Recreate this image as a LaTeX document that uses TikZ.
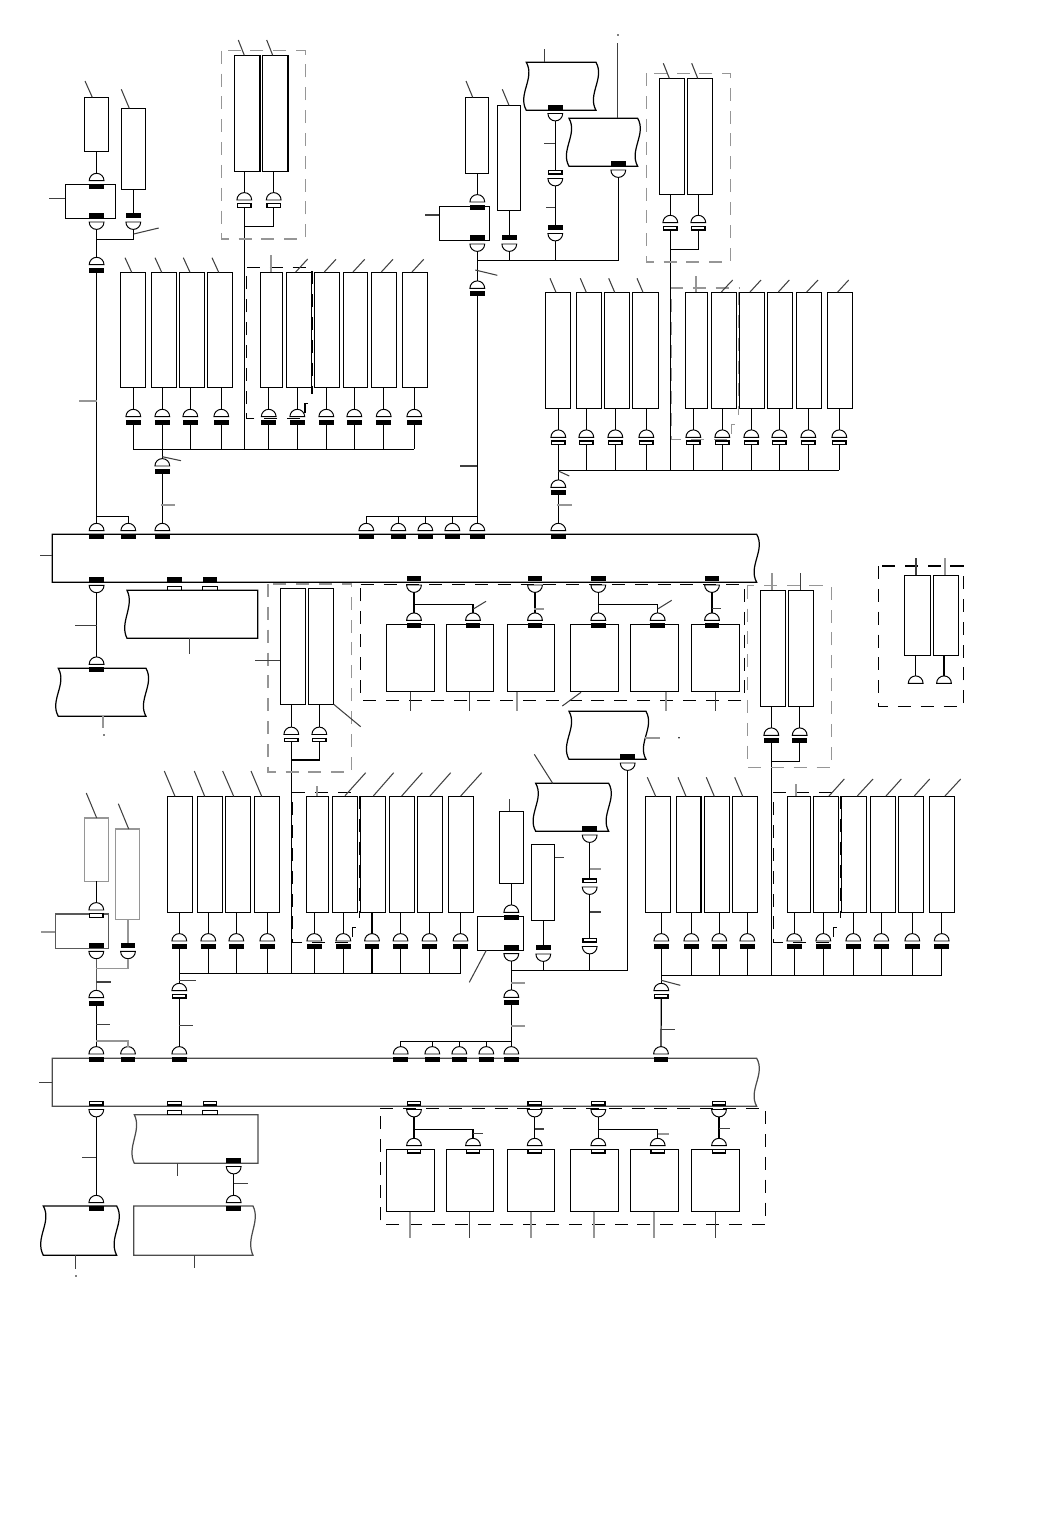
\documentclass[tikz,border=0pt]{standalone}
\usetikzlibrary{shapes.geometric}
\definecolor{leadgrey}{RGB}{150,150,150}
\tikzset{
 wire/.style={line width=.7pt},
 lead/.style={line width=.6pt,black!75},
 leadfat/.style={line width=1.2pt,leadgrey},
 cell/.style={draw,line width=.7pt,inner sep=0pt,outer sep=0pt},
 dome/.style={semicircle,draw,line width=.55pt,inner sep=0pt,outer sep=0pt,minimum width=.296cm,minimum height=.148cm,anchor=chord center},
 cup/.style={dome,shape border rotate=180},
 slab/.style={draw=black,line width=.8pt,fill=#1,inner sep=0pt,outer sep=0pt,minimum width=.27cm,minimum height=.07cm,anchor=north},
 slab/.default=black,
 fence/.style={line width=.7pt,dash pattern=on 7.4pt off 5.6pt},
 greyfence/.style={fence,draw=leadgrey},
}
% dome resting on a slab, slab hanging over a cup
\newcommand{\plugdown}[4][black]{\node[dome] (#2) at (#3,#4) {};\node[slab=#1] (#2-s) at (#3,{#4+3.7}) {};}
\newcommand{\plugup}[4][black]{\node[slab=#1] (#2-s) at (#3,#4) {};\node[cup] (#2) at (#3,{#4+8}) {};}
\newcommand{\cell}[6][]{\node[cell,#1,minimum width={((#5)-(#3))*0.02cm},minimum height={((#6)-(#4))*0.02cm}] (#2) at ({((#3)+(#5))/2},{((#4)+(#6))/2}) {};}
% args: left, top, right, bottom, wave left, wave right
\newcommand{\wavybox}[7][black]{\draw[wire,draw=#1] (#2,#3) -- (#4,#3) .. controls ({#4+#7},{#3+16}) and ({#4-#7},{#3+32}) .. (#4,#5) -- (#2,#5) .. controls ({#2-#6},{#3+32}) and ({#2+#6},{#3+16}) .. cycle;}
% fence of a row, with its notch at the lower right
\newcommand{\notchfence}[5]{
 \draw[#1] (#4-4,#5-15) -- (#4-7,#5-15) -- (#4-7,#5) -- (#2,#5) -- (#2,#3) -- (#4,#3);
 \draw[#1] (#4,#3+4) -- (#4,#5-24);
}
% one tall cell of a row with its plug
\newcommand{\rowcell}[9]{
 \cell{#1}{#2}{#5}{#3}{#6}
 \plugdown[#8]{#1p}{#4}{#7}
 \draw[wire] (#1.south -| #1p.apex) -- (#1p.apex);
 \draw[wire] (#1p-s.south) -- (#1p-s.south |- #9);
}
\begin{document}
\begin{tikzpicture}[x=.02cm,y=-.02cm]
 \useasboundingbox (0,0) rectangle (1043,1536);

 % upper left feeder
 \cell{meterA}{84.3}{97.3}{108.6}{151.3}
 \cell{driveA}{65.3}{184.3}{115.3}{218.3}
 \cell{meterB}{121.3}{108.3}{145.7}{189.3}
 \plugdown{fa}{96.6}{180.7}
 \plugup{fb}{96.6}{214}
 \plugup{fc}{133.3}{214}
 \plugdown{fd}{96.6}{264.7}
 \coordinate (ja) at (96.6,239.3);
 \draw[wire] (meterA.south -| fa.apex) -- (fa.apex);
 \draw[wire] (meterB.south -| fc-s.north) -- (fc-s.north);
 \draw[wire] (fb.apex) -- (fd.apex);
 \draw[wire] (fc.apex) |- (ja);

 % upper middle feeder
 \cell{meterC}{465.3}{97.3}{488.7}{173.7}
 \cell{driveB}{439.3}{206.3}{489.7}{240.3}
 \cell{meterD}{497.3}{105.3}{520.7}{210.3}
 \plugdown{ga}{477.3}{202}
 \plugup{gb}{477.3}{236}
 \plugup{gc}{509.3}{236}
 \plugdown{gd}{477.3}{288.3}
 \wavybox{526.3}{62.3}{596}{110.3}{9}{9}
 \wavybox{569}{118.3}{637.7}{166.3}{9}{9}
 \plugup{ge}{555.3}{105.5}
 \plugup[white]{gf}{555.3}{170.5}
 \plugup{gg}{555.3}{225.5}
 \plugup{gh}{618.3}{162}
 \coordinate (jb) at (477.3,260.3);
 \draw[wire] (meterC.south -| ga.apex) -- (ga.apex);
 \draw[wire] (meterD.south -| gc-s.north) -- (gc-s.north);
 \draw[wire] (gb.apex) -- (gd.apex);
 \draw[wire] (ge.apex) -- (gf-s.north);
 \draw[wire] (gf.apex) -- (gg-s.north);
 \draw[wire] (gh.apex) |- (jb);
 \draw[wire] (gc.apex) -- (gc.apex |- jb);
 \draw[wire] (gg.apex) -- (gg.apex |- jb);

 % cabinets of two cells
 \foreach \nm/\xa/\ya/\yb/\sa/\sb/\yd/\yj/\st/\yl in {
  cabA/234.7/55.3/171.3/244.3/273.7/200/226.7/white/449.3,
  cabB/659.3/78.3/194.7/670.3/698.3/222.7/249.3/white/470.3,
  cabC/280.3/588.3/704.3/291.3/319.3/734.5/760/white/973.3,
  cabD/760.3/590.3/706.3/771.3/799.7/735.3/761.3/black/975.3}{
  \cell{\nm a}{\xa}{\ya}{\xa+25.4}{\yb}
  \cell{\nm b}{\xa+28}{\ya}{\xa+53.4}{\yb}
  \plugdown[\st]{\nm p}{\sa}{\yd}
  \plugdown[\st]{\nm q}{\sb}{\yd}
  \draw[wire] (\nm a.south -| \nm p.apex) -- (\nm p.apex);
  \draw[wire] (\nm b.south -| \nm q.apex) -- (\nm q.apex);
  \draw[wire] (\nm q-s.south) |- (\sa,\yj);
  \draw[wire] (\nm p-s.south) -- (\sa,\yl);
 }
 \cell{cabEa}{904.3}{575.3}{930.3}{655.3}
 \cell{cabEb}{933.3}{575.3}{958.7}{655.3}
 \node[dome] (cabEp) at (915.7,683.3) {};
 \node[dome] (cabEq) at (944,683.3) {};
 \draw[wire] (cabEa.south -| cabEp.apex) -- (cabEp.apex);
 \draw[wire] (cabEb.south -| cabEq.apex) -- (cabEq.apex);

 % row over the first bus, left
 \coordinate (busA) at (0,449.3);
 \foreach \nm/\xa/\xb/\xs in {a/120.3/145.7/133.3,b/151.3/176.7/162.3,c/179.3/204.7/190.3,d/207.3/232.7/221.3,e/260.3/282.7/268.7,f/286.3/311.7/297.3,g/314.3/339.7/326.3,h/343.3/367.7/354.3,i/371.3/396.7/383.7,j/402.3/427.7/414.3}
  {\rowcell{rA\nm}{\xa}{\xb}{\xs}{272.3}{387.3}{416.7}{black}{busA}}
 \draw[wire] (rAap-s.south |- busA) -- (rAjp-s.south |- busA);
 \plugdown{ka}{162.3}{466}
 \draw[wire] (rAbp-s.south |- busA) -- (ka.apex);
 \notchfence{fence}{246.3}{267.3}{312}{418.3}

 % row over the first bus, right
 \coordinate (busB) at (0,470.3);
 \foreach \nm/\xa/\xb/\xs in {a/545.3/570.7/558.3,b/576.3/601.7/586.3,c/604.3/629.7/615.3,d/632.3/658.7/646.3,e/685.3/707.7/693.3,f/711.3/736.7/722.3,g/739.3/764.7/751.3,h/767.3/792.7/779.3,i/796.3/821.7/808.3,j/827.3/852.7/839.3}
  {\rowcell{rB\nm}{\xa}{\xb}{\xs}{292.3}{408.7}{437.3}{white}{busB}}
 \draw[wire] (rBap-s.south |- busB) -- (rBjp-s.south |- busB);
 \plugdown{kb}{558.3}{487.3}
 \draw[wire] (rBap-s.south |- busB) -- (kb.apex);
 \notchfence{greyfence}{671.3}{288}{738.7}{439.3}

 % first bus
 \wavybox{52.3}{534.3}{756.7}{582.3}{0}{9}
 \plugdown{ta}{96.6}{530.7}
 \plugdown{tb}{128.3}{530.7}
 \plugdown{tc}{162.3}{530.7}
 \plugdown{td}{366.3}{530.7}
 \plugdown{te}{398.3}{530.7}
 \plugdown{tf}{425.3}{530.7}
 \plugdown{tg}{452.3}{530.7}
 \plugdown{th}{477.3}{530.7}
 \plugdown{ti}{558.3}{530.7}
 \coordinate (jc) at (96.6,516.3);
 \coordinate (jd) at (477.3,516.3);
 \draw[wire] (fd-s.south) -- (ta.apex);
 \draw[wire] (jc) -| (tb.apex);
 \draw[wire] (ka-s.south) -- (tc.apex);
 \draw[wire] (gd-s.south) -- (th.apex);
 \draw[wire] (kb-s.south) -- (ti.apex);
 \draw[wire] (jd) -| (td.apex);
 \foreach \nm in {te,tf,tg} \draw[wire] (\nm.apex) -- (\nm.apex |- jd);

 % under the first bus, left
 \plugup{ua}{96.6}{577.3}
 \plugdown{ub}{96.6}{664.3}
 \draw[wire] (ua.apex) -- (ub.apex);
 \wavybox{58.3}{668.3}{146}{716.3}{9}{9}
 \wavybox{127}{590.3}{257.7}{638.3}{8}{0}
 \node[slab] (uc) at (174.5,577.3) {};
 \node[slab] (ud) at (210,577.3) {};
 \node[cell,minimum width=.29cm,minimum height=.08cm,anchor=south] (ue) at (174.5,590.3) {};
 \node[cell,minimum width=.31cm,minimum height=.08cm,anchor=south] (uf) at (210,590.3) {};

 % under the first bus, the six cells
 \foreach \nm/\xa/\xb/\xs in {a/386.3/434.7/414,b/446.3/493.7/473,c/507.3/554.7/535,d/570.3/618.7/598.3,e/630.3/678.7/657.7,f/691.3/739.7/712}{
  \cell{vA\nm}{\xa}{624.3}{\xb}{691.7}
  \plugdown{vA\nm p}{\xs}{620.3}
 }
 \foreach \nm/\xs in {a/414,c/535,d/598.3,f/712}{
  \plugup{vB\nm}{\xs}{577}
  \draw[wire] (vB\nm.apex) -- (vA\nm p.apex);
 }
 \draw[wire] (vBa.apex |- 0,604.3) -| (vAbp.apex);
 \draw[wire] (vBd.apex |- 0,604.3) -| (vAep.apex);
 \draw[fence] (360.7,584.3) -- (744.3,584.3) -- (744.3,700.3) -- (360.7,700.3) -- cycle;
 \wavybox{569}{711.3}{646}{759.3}{9}{9}
 \plugup{wa}{627.7}{755}
 \coordinate (je) at (511.3,970.3);
 \draw[wire] (wa.apex) |- (je);

 % fences of the cabinets
 \draw[greyfence] (221.3,50.7) rectangle (305.3,239);
 \draw[greyfence] (646.7,73.3) rectangle (730.7,262);
 \draw[greyfence] (268,584) rectangle (351.7,772);
 \draw[greyfence] (747.3,585.7) rectangle (831.3,767.7);
 \draw[fence] (878.3,566) rectangle (963.3,706.3);

 % lower left feeder
 \cell[draw=leadgrey,line width=.9pt]{meterE}{84.3}{818}{108.3}{881.3}
 \cell[draw=black!65]{driveC}{55.3}{914}{108.7}{948.3}
 \cell[draw=leadgrey,line width=.9pt]{meterF}{115.7}{829}{139.7}{919.3}
 \plugdown[white]{ma}{96.3}{910}
 \plugup{mb}{96.3}{943.3}
 \plugup{mc}{128}{943.3}
 \plugdown{md}{96.3}{997.7}
 \coordinate (jf) at (96.3,968.3);
 \draw[wire] (meterE.south -| ma.apex) -- (ma.apex);
 \draw[wire,leadgrey] (meterF.south -| mc-s.north) -- (mc-s.north);
 \draw[wire,black!65] (mb.apex) -- (md.apex);
 \draw[wire,leadgrey] (mc.apex) |- (jf);

 % lower middle feeder
 \cell{meterG}{499.3}{811.3}{523.3}{883.3}
 \cell{driveD}{477.3}{916.3}{523.3}{950.3}
 \cell{meterH}{531.3}{844.3}{554.7}{920.3}
 \plugdown{na}{511.3}{912.3}
 \plugup{nb}{511.3}{945.7}
 \plugup{nc}{543.3}{946}
 \plugdown{nd}{511.3}{997.3}
 \wavybox{535.7}{783.3}{608.7}{831.3}{9}{9}
 \plugup{ne}{589.7}{827}
 \plugup[white]{nf}{589.7}{879}
 \plugup[white]{ng}{589.7}{938.5}
 \draw[wire] (meterG.south -| na.apex) -- (na.apex);
 \draw[wire] (meterH.south -| nc-s.north) -- (nc-s.north);
 \draw[wire] (nb.apex) -- (nd.apex);
 \draw[wire] (ne.apex) -- (nf-s.north);
 \draw[wire] (nf.apex) -- (ng-s.north);
 \draw[wire] (nc.apex) -- (nc.apex |- je);
 \draw[wire] (ng.apex) -- (ng.apex |- je);

 % row over the second bus, left
 \coordinate (busC) at (0,973.3);
 \foreach \nm/\xa/\xb/\xs in {a/167.3/192.7/179.3,b/197.3/222.7/208.3,c/225.3/250.7/236.3,d/254.3/279.7/267.3,e/306.3/328.7/314.3,f/332.3/357.7/343.3,g/360.3/385.7/372,h/389.3/414.7/400.5,i/417.3/442.7/429.5,j/448.3/473.7/460.5}
  {\rowcell{rC\nm}{\xa}{\xb}{\xs}{796.3}{912.3}{941}{black}{busC}}
 \draw[wire] (rCap-s.south |- busC) -- (rCjp-s.south |- busC);
 \plugdown[white]{kc}{179.3}{990.7}
 \draw[wire] (rCap-s.south |- busC) -- (kc.apex);
 \notchfence{fence}{292.3}{792.3}{359.7}{942.3}

 % row over the second bus, right
 \coordinate (busD) at (0,975.3);
 \foreach \nm/\xa/\xb/\xs in {a/645.3/670.7/661.3,b/676.3/701/691.3,c/704.3/729.7/719.3,d/732.3/757.7/747.3,e/787.3/810.7/794.3,f/813.3/838.7/823.3,g/841.3/866.7/853.3,h/870.3/895.7/881.3,i/898.3/923.7/912.3,j/929.3/954.7/941.7}
  {\rowcell{rD\nm}{\xa}{\xb}{\xs}{796.3}{912.3}{941}{black}{busD}}
 \draw[wire] (rDap-s.south |- busD) -- (rDjp-s.south |- busD);
 \plugdown[white]{kd}{661.3}{990.7}
 \draw[wire] (rDap-s.south |- busD) -- (kd.apex);
 \notchfence{fence}{773.3}{792.3}{840.7}{942.3}

 % second bus
 \wavybox[black!70]{52.3}{1058.3}{756.7}{1106.3}{0}{9}
 \plugdown{xa}{96.3}{1054}
 \plugdown{xb}{128}{1054}
 \plugdown{xc}{179.3}{1054}
 \plugdown{xd}{400.7}{1054}
 \plugdown{xe}{432.3}{1054}
 \plugdown{xf}{459.3}{1054}
 \plugdown{xg}{486.3}{1054}
 \plugdown{xh}{511.3}{1054}
 \plugdown{xi}{661}{1054}
 \coordinate (jg) at (96.3,1041);
 \coordinate (jh) at (511.3,1041.3);
 \draw[wire] (md-s.south) -- (xa.apex);
 \draw[wire,leadgrey] (jg) -| (xb.apex);
 \draw[wire] (kc-s.south) -- (xc.apex);
 \draw[wire] (nd-s.south) -- (xh.apex);
 \draw[wire] (kd-s.south) -- (xi.apex);
 \draw[wire] (jh) -| (xd.apex);
 \foreach \nm in {xe,xf,xg} \draw[wire] (\nm.apex) -- (\nm.apex |- jh);

 % under the second bus, left
 \plugup[white]{ya}{96.3}{1101.5}
 \plugdown{yb}{96.3}{1202.7}
 \draw[wire] (ya.apex) -- (yb.apex);
 \wavybox{43.3}{1206}{116.7}{1255.3}{9}{9}
 \wavybox[black!70]{134.3}{1114.7}{258}{1163.3}{8}{0}
 \wavybox[black!70]{133.7}{1206}{253}{1255.3}{0}{8}
 \node[slab=white] (yc) at (174.5,1101.5) {};
 \node[slab=white] (yd) at (210,1101.5) {};
 \node[cell,minimum width=.29cm,minimum height=.08cm,anchor=south] (ye) at (174.5,1114.7) {};
 \node[cell,minimum width=.30cm,minimum height=.08cm,anchor=south] (yf) at (210,1114.7) {};
 \plugup{yg}{233.7}{1158.5}
 \plugdown{yh}{233.7}{1202.7}
 \draw[wire] (yg.apex) -- (yh.apex);

 % under the second bus, the six cells
 \foreach \nm/\xa/\xb/\xs in {a/386.3/434.7/414,b/446.3/493.7/473,c/507.3/554.7/534.7,d/570.3/618.7/598.3,e/630.3/678.7/657.7,f/691.3/739.7/719}{
  \cell{zA\nm}{\xa}{1149.3}{\xb}{1211.7}
  \plugdown[white]{zA\nm p}{\xs}{1145.7}
 }
 \foreach \nm/\xs in {a/414,c/534.7,d/598.3,f/719}{
  \plugup[white]{zB\nm}{\xs}{1101.5}
  \draw[wire] (zB\nm.apex) -- (zA\nm p.apex);
 }
 \draw[wire] (zBa.apex |- 0,1129.3) -| (zAbp.apex);
 \draw[wire] (zBd.apex |- 0,1129.3) -| (zAep.apex);
 \draw[fence] (380.3,1108.3) -- (765.7,1108.3) -- (765.7,1224.3) -- (380.3,1224.3) -- cycle;

 % thin leads, slanting and level
 \foreach \xa/\ya/\xb/\yb in {
  85/81/92.3/97.3,121.3/89.3/129.3/108.3,49/198.7/65.3/198.7,133.7/234/158.7/228,
  238.3/40/244.3/55.3,266.7/40/272.7/55.3,
  125/257.7/131.7/272.3,155/257.7/161.7/272.3,183.3/257.7/190/272.3,212/257.7/218.7/272.3,
  295.7/272/307.7/259,324.3/272/336/259.3,353/272/364.7/259.3,381.3/272/393/259.3,412/272/423.7/259.3,
  162.3/456.7/181/460.7,40/555.3/52.3/555.3,75/625.7/96.6/625.7,189.3/638.3/189.3/654,
  255/660.3/280.3/660.3,333.7/704.3/360.7/726.7,
  466/81/472.7/97.3,502.3/89.3/509/105.3,425/215/439.3/215,475.3/270/497.3/275.3,
  544.3/49.3/544.3/62.3,544/143.3/555.3/143.3,546/207.3/555.3/207.3,617.3/43.3/617.3/118.3,
  663.3/63.3/669.3/78.3,691.7/63.3/697.7/78.3,
  550/278.3/556/292.3,580.3/278.3/586.3/292.3,608.7/278.3/614.7/292.3,637/278.3/643/292.3,
  721.3/292/732.7/280,750/292/761/280,778.3/292/789.3/280,806.7/292/818/280,837.7/292/848.7/280,
  558.3/471/569.3/476,460/466/477.3/466,
  473.3/609/486/601.3,657.7/609/671.7/600.3,712/608.3/721/608.3,
  410.3/691.7/410.3/711.3,469.3/691.7/469.3/711.3,562.3/706/581/692.3,715.3/691.7/715.3/711.3,
  534.3/754.3/552.7/783.3,800.3/573.3/800.3/590.3,916/558/916/575.3,
  86.3/793/96.7/818,118.3/803.7/128.7/829,96.3/982/111/982,96.3/1024.3/110/1024.3,39/1082.3/52.3/1082.3,
  164.3/771/175/796.3,194.3/771/204.7/796.3,222.7/771/233.7/796.3,251/771/261.7/796.3,
  345/795.7/365.7/772.7,373.3/796/393.7/772.7,401.7/796/422.3/772.7,430/796/450.7/772.7,460.7/796/481.7/772.7,
  179.3/980.3/195.7/980.3,179.3/1025.3/193/1025.3,
  486.3/950.3/469.3/982.3,509.7/799/509.7/811.3,554.7/857.3/564/857.3,589.7/912/601.3/912,
  647.3/777.3/655.7/796.3,678/777.3/686/796.3,706.3/777.3/714.3/796.3,734.7/777.3/742.7/796.3,
  829/796/844.3/779,857.3/796/873/779,886/796/901.3/779,914.3/796/929.7/779,945/796/960.7/779,
  661.3/980.3/680.3/985.3,660.7/1029.3/674.7/1029.3,
  82.3/1157.3/96.3/1157.3,75.3/1255.3/75.3/1268.7,177.7/1163.3/177.7/1176,194.3/1255.3/194.3/1267.7,233.7/1183.3/248/1183.3,
  473/1133.3/483/1133.3,534.7/1129/544/1129,719/1128.3/730/1128.3,469.3/1211.7/469.3/1237.7,715.3/1211.7/715.3/1237.7}
  \draw[lead] (\xa,\ya) -- (\xb,\yb);

 % fat grey leads
 \foreach \xa/\ya/\xb/\yb in {
  270.7/255/270.7/272.3,696/276/696/292.3,79/401/96.6/401,161.3/505/175.3/505,557.3/505/572/505,
  102.7/716.3/102.7/728,516.7/691.7/516.7/711.3,666/691.7/666/711.3,534.3/609/544/609,
  645.3/737.7/660/737.7,772/573.3/772/590.3,944.7/558/944.7/575.3,317.3/786/317.3/796.3,795.7/784/795.7/796.3,
  41/932/55.3/932,589.7/869/601.3/869,511.3/982.7/524.7/982.7,511.3/1026/525.3/1026,
  410.3/1211.7/410.3/1237.7,531.3/1211.7/531.3/1237.7,594.3/1211.7/594.3/1237.7,653.7/1211.7/653.7/1237.7,657.7/1134/669.3/1134}
  \draw[leadfat] (\xa,\ya) -- (\xb,\yb);

 % stray dots
 \foreach \xa/\ya in {618/35,104/735,679/737.7,76/1276}
  \fill (\xa,\ya) circle (.8);
\end{tikzpicture}
\end{document}
